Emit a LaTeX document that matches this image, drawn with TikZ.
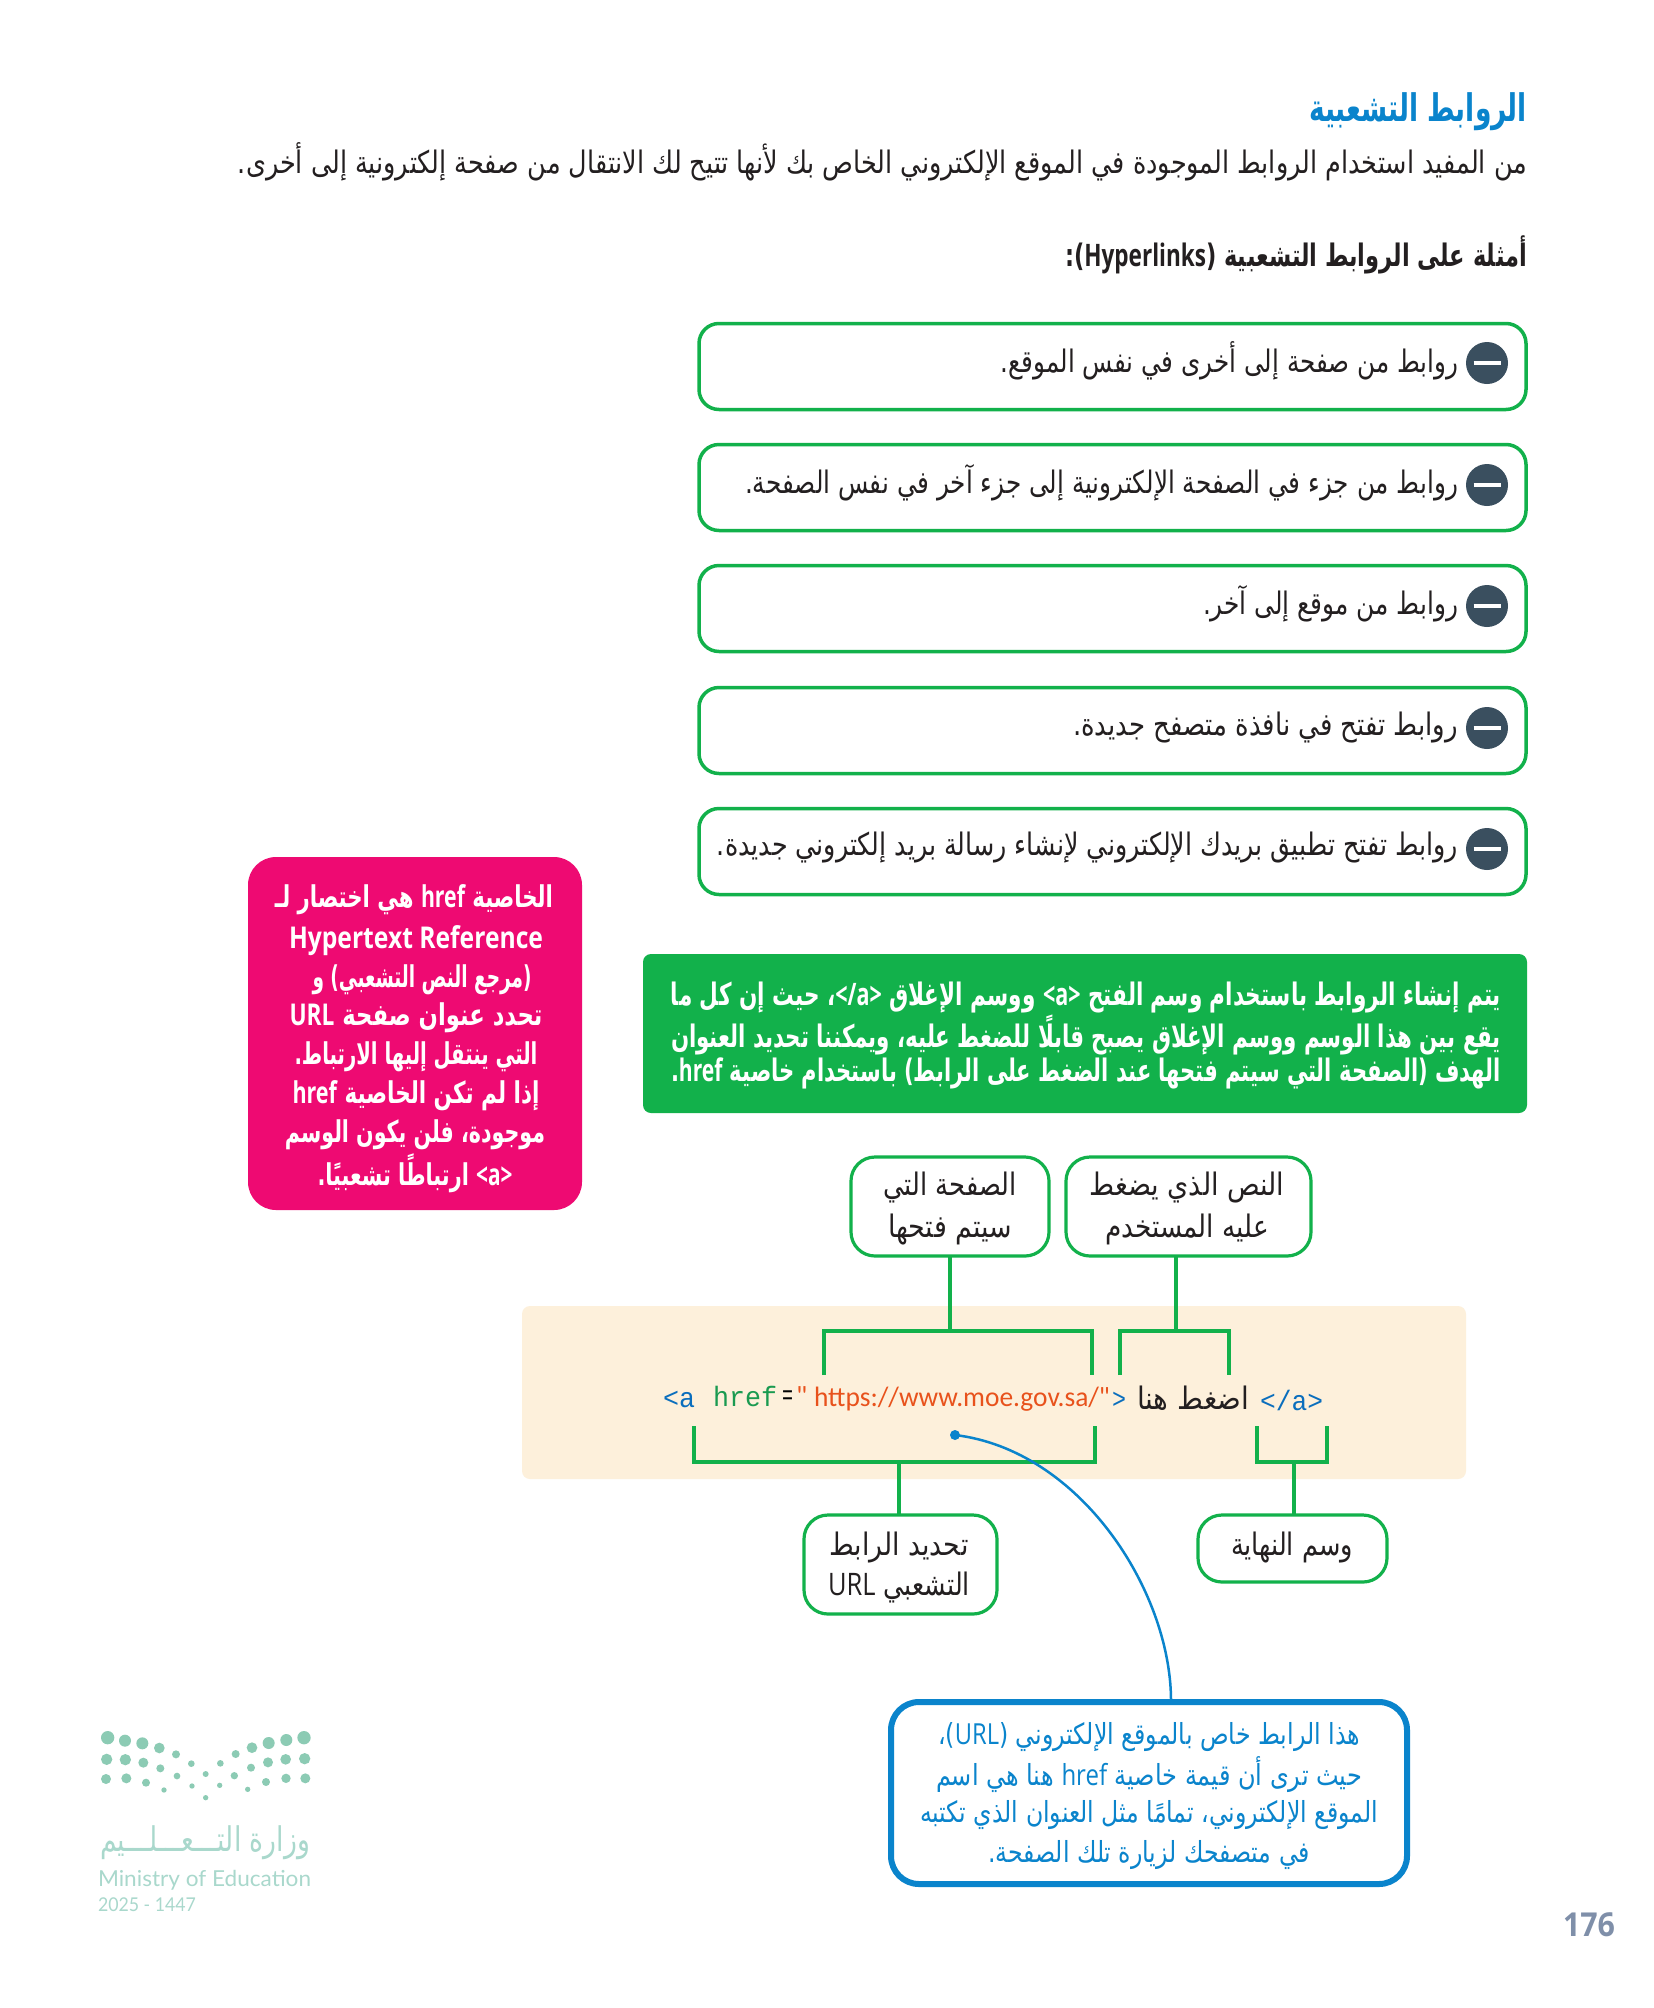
\documentclass[tikz,border=0pt]{standalone}
\usepackage{graphicx}
\usepackage{fontspec}
\TeXXeTstate=1
\newfontfamily\arabicfont[Script=Arabic]{DejaVu Sans}
\newfontfamily\latinfont{Open Sans}
\newfontfamily\urlfont{Carlito}
\newfontfamily\codefont{Liberation Mono}
\newfontfamily\logofont{Lato}
\newcommand\ar[1]{{\arabicfont\beginR #1\endR}}
\newcommand\lt[1]{{\latinfont\beginL #1\endL}}
\newcommand\fitw[2]{\resizebox{#1pt}{\height}{#2}}
\definecolor{gr}{HTML}{12B14B}
\definecolor{pnk}{HTML}{EE0A72}
\definecolor{blu}{HTML}{0A84CC}
\definecolor{tan}{HTML}{FDF0DB}
\definecolor{slate}{HTML}{3A4F5F}
\definecolor{cblue}{HTML}{0A6EBD}
\definecolor{cgreen}{HTML}{1A9A50}
\definecolor{corange}{HTML}{E8521C}
\definecolor{txt}{HTML}{231F20}
\definecolor{logoa}{HTML}{8CCBB4}
\definecolor{logot}{HTML}{A9D8CC}
\definecolor{pgnum}{HTML}{7F8FA9}
\tikzset{
  x=1pt,y=-1pt,
  every node/.style={inner sep=0pt,outer sep=0pt,text=txt},
  body/.style={font=\fontsize{31}{36}\selectfont},
  listbox/.style={draw=gr,line width=3.5pt,fill=white,rounded corners=20pt,anchor=north west,minimum width=827pt,minimum height=86pt},
  lblbox/.style={draw=gr,line width=3.2pt,fill=white,rounded corners=24pt,anchor=north west},
  minus/.style={circle,fill=slate,minimum size=42pt},
  conn/.style={draw=gr,line width=3.2pt},
  pinkt/.style={text=white,font=\fontsize{30}{34}\selectfont\bfseries},
  greent/.style={text=white,font=\fontsize{31}{34}\selectfont\bfseries,anchor=east},
  bluet/.style={text=blu,font=\fontsize{29}{34}\selectfont},
  codet/.style={anchor=west,font=\codefont\fontsize{28}{30}\selectfont},
  urlt/.style={anchor=west,text=corange,font=\urlfont\fontsize{28}{30}\selectfont},
}
\begin{document}
\begin{tikzpicture}
\useasboundingbox (0,0) rectangle (1654,2008);
\fill[white] (0,0) rectangle (1654,2008);
% heading
\node[anchor=east,text=blu,font=\fontsize{38}{44}\selectfont\bfseries] (title) at (1527,112) {\fitw{218}{\ar{الروابط التشعبية}}};
\node[anchor=east,body] (intro) at (1527,162) {\fitw{1289}{\ar{من المفيد استخدام الروابط الموجودة في الموقع الإلكتروني الخاص بك لأنها تتيح لك الانتقال من صفحة إلكترونية إلى أخرى.}}};
\node[anchor=east,font=\fontsize{31}{35}\selectfont\bfseries] (head) at (1527,255) {\fitw{462}{\ar{أمثلة على الروابط التشعبية (\lt{Hyperlinks}):}}};
% list boxes
\node[listbox] (b1) at (699,323.5) {};
\node[listbox] (b2) at (699,444.5) {};
\node[listbox] (b3) at (699,565.5) {};
\node[listbox] (b4) at (699,687.5) {};
\node[listbox] (b5) at (699,808.5) {};
\foreach \n/\y in {1/363,2/485,3/606,4/728,5/849}{
  \node[minus] (m\n) at (1487,\y) {\textcolor{white}{\rule{27pt}{3.5pt}}};
}
\node[anchor=east,body] (t1) at (1458,361) {\fitw{457}{\ar{روابط من صفحة إلى أخرى في نفس الموقع.}}};
\node[anchor=east,body] (t2) at (1458,483) {\fitw{713}{\ar{روابط من جزء في الصفحة الإلكترونية إلى جزء آخر في نفس الصفحة.}}};
\node[anchor=east,body] (t3) at (1458,604) {\fitw{255}{\ar{روابط من موقع إلى آخر.}}};
\node[anchor=east,body] (t4) at (1458,727) {\fitw{385}{\ar{روابط تفتح في نافذة متصفح جديدة.}}};
\node[anchor=east,body] (t5) at (1458,848) {\fitw{741}{\ar{روابط تفتح تطبيق بريدك الإلكتروني لإنشاء رسالة بريد إلكتروني جديدة.}}};
% pink
\node[fill=pnk,rounded corners=28pt,anchor=north west,minimum width=334pt,minimum height=353pt] (pink) at (248,857) {};
\node[pinkt] (p1) at (414,900) {\fitw{278}{\ar{الخاصية \lt{href} هي اختصار لـ}}};
\node[pinkt] (p2) at (416,941) {\fitw{254}{\lt{Hypertext Reference}}};
\node[pinkt] (p3) at (422,980) {\fitw{219}{\ar{(مرجع النص التشعبي) و}}};
\node[pinkt] (p4) at (416,1018) {\fitw{253}{\ar{تحدد عنوان صفحة \lt{URL}}}};
\node[pinkt] (p5) at (416,1057) {\fitw{243}{\ar{التي ينتقل إليها الارتباط.}}};
\node[pinkt] (p6) at (416,1096) {\fitw{247}{\ar{إذا لم تكن الخاصية \lt{href}}}};
\node[pinkt] (p7) at (415,1135) {\fitw{260}{\ar{موجودة، فلن يكون الوسم}}};
\node[pinkt] (p8) at (415,1173) {\fitw{195}{\ar{\lt{<a>} ارتباطًا تشعبيًا.}}};
% green
\node[fill=gr,rounded corners=8pt,anchor=north west,minimum width=884pt,minimum height=159pt] (grn) at (643,954) {};
\node[greent] (g1) at (1501,997) {\fitw{830}{\ar{يتم إنشاء الروابط باستخدام وسم الفتح \lt{<a>} ووسم الإغلاق \lt{</a>}، حيث إن كل ما}}};
\node[greent] (g2) at (1501,1035) {\fitw{830}{\ar{يقع بين هذا الوسم ووسم الإغلاق يصبح قابلًا للضغط عليه، ويمكننا تحديد العنوان}}};
\node[greent] (g3) at (1501,1073) {\fitw{830}{\ar{الهدف (الصفحة التي سيتم فتحها عند الضغط على الرابط) باستخدام خاصية \lt{href}.}}};
% tan code panel
\fill[tan,rounded corners=8pt] (522,1306) rectangle (1466,1479);
% label boxes
\node[lblbox,minimum width=198pt,minimum height=99pt] (page) at (851,1157) {};
\node[lblbox,minimum width=245pt,minimum height=99pt] (click) at (1066,1157) {};
\node[lblbox,minimum width=193pt,minimum height=99pt] (urlb) at (804,1515) {};
\node[lblbox,minimum width=189pt,minimum height=67pt] (endb) at (1198,1515) {};
\node[body] (l1) at (950,1187) {\fitw{133}{\ar{الصفحة التي}}};
\node[body] (l2) at (950,1229) {\fitw{124}{\ar{سيتم فتحها}}};
\node[body] (l3) at (1187,1187) {\fitw{195}{\ar{النص الذي يضغط}}};
\node[body] (l4) at (1187,1229) {\fitw{164}{\ar{عليه المستخدم}}};
\node[body] (l5) at (899,1547) {\fitw{139}{\ar{تحديد الرابط}}};
\node[body] (l6) at (899,1587) {\fitw{142}{\ar{التشعبي \lt{URL}}}};
\node[body] (l7) at (1292,1547) {\fitw{122}{\ar{وسم النهاية}}};
% brackets
\coordinate (ta) at (824,1375); \coordinate (tb) at (1092,1375); \coordinate (tc) at (950,1331);
\coordinate (td) at (1120,1375); \coordinate (te) at (1229,1375); \coordinate (tf) at (1176,1331);
\coordinate (ba) at (694,1426); \coordinate (bb) at (1095,1426); \coordinate (bc) at (899,1462);
\coordinate (bd) at (1257,1426); \coordinate (be) at (1327,1426); \coordinate (bf) at (1294,1462);
\draw[conn,line join=miter] (ta) -- (ta |- tc) -- (tb |- tc) -- (tb);
\draw[conn,line join=miter] (td) -- (td |- tf) -- (te |- tf) -- (te);
\draw[conn,line join=miter] (ba) -- (ba |- bc) -- (bb |- bc) -- (bb);
\draw[conn,line join=miter] (bd) -- (bd |- bf) -- (be |- bf) -- (be);
\draw[conn] (page.south -| tc) -- (tc);
\draw[conn] (click.south -| tf) -- (tf);
\draw[conn] (bc) -- (urlb.north -| bc);
\draw[conn] (bf) -- (endb.north -| bf);
% code line
\node[codet,text=cblue] (c1) at (663,1399) {\fitw{32}{<a}};
\node[codet,text=cgreen] (c2) at (713,1396) {\fitw{64}{href}};
\node[codet,text=black] (c3) at (782,1398) {\fitw{11}{=}};
\node[urlt] (c4) at (796,1396) {"};
\node[urlt] (c5) at (814,1399) {\fitw{296}{https://www.moe.gov.sa/"}};
\node[codet,text=cblue] (c6) at (1112,1400) {\fitw{14}{>}};
\node[anchor=west,body] (c7) at (1137,1398) {\fitw{112}{\ar{اضغط هنا}}};
\node[codet,text=cblue] (c8) at (1260,1400) {\fitw{63}{</a>}};
% blue callout
\node[draw=blu,line width=6pt,fill=white,rounded corners=28pt,anchor=north west,minimum width=516pt,minimum height=182pt] (call) at (891,1702) {};
\node[circle,fill=blu,minimum size=10pt] (dot) at (955,1435) {};
\coordinate (callt) at (1171,1699);
\draw[blu,line width=2.5pt] (dot.center) .. controls (1080,1450) and (1170,1590) .. (callt);
\node[bluet] (q1) at (1149,1737) {\fitw{422}{\ar{هذا الرابط خاص بالموقع الإلكتروني (\lt{URL})،}}};
\node[bluet] (q2) at (1149,1775) {\fitw{426}{\ar{حيث ترى أن قيمة خاصية \lt{href} هنا هي اسم}}};
\node[bluet] (q3) at (1149,1815) {\fitw{458}{\ar{الموقع الإلكتروني، تمامًا مثل العنوان الذي تكتبه}}};
\node[bluet] (q4) at (1149,1855) {\fitw{322}{\ar{في متصفحك لزيارة تلك الصفحة.}}};
% logo
\begin{scope}[shift={(80,1700)}]
\foreach \a/\b/\r in {83/113/20,135/122/18,187/130/18,238/144/16,288/163/12,334/191/10,421/190/10,467/162/12,516/143/16,566/129/18,619/120/18,672/113/20,
80/178/17,136/179/17,190/188/15,241/205/12,291/228/10,377/222/9,463/227/11,513/203/12,564/187/15,617/178/16,674/176/17,
78/237/15,139/235/15,198/248/12,252/270/8,336/258/8,377/293/8,419/256/8,503/268/8,558/246/12,618/235/14,676/235/15}{
  \fill[logoa] (\a/3,\b/3) circle ({\r/3});
}
\end{scope}
\node[anchor=west,text=logot,font=\fontsize{34}{40}\selectfont] (la) at (100,1843) {\fitw{210}{\ar{وزارة التـــعـــلـــيم}}};
\node[anchor=west,text=logot,font=\logofont\fontsize{22}{26}\selectfont] (lb) at (98,1880) {\fitw{213}{Ministry of Education}};
\node[anchor=west,text=logot,font=\logofont\fontsize{19}{24}\selectfont] (lc) at (98,1905) {\fitw{98}{2025 - 1447}};
% page number
\node[text=pgnum,font=\latinfont\bfseries\fontsize{33}{38}\selectfont] (pg) at (1589,1925) {\fitw{52}{176}};
\end{tikzpicture}
\end{document}
